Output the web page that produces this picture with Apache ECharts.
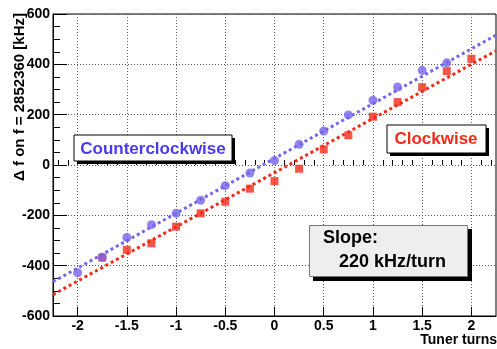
<!DOCTYPE html>
<html>
<head>
<meta charset="utf-8">
<script src="https://cdn.jsdelivr.net/npm/echarts@6/dist/echarts.min.js"></script>
<style>html,body{margin:0;padding:0;background:#fff;}#c{width:497px;height:349px;}</style>
</head>
<body>
<div id="c"></div>
<script>
// ---- data ----
const ccwTurns = [-2, -1.75, -1.5, -1.25, -1, -0.75, -0.5, -0.25, 0, 0.25, 0.5, 0.75, 1, 1.25, 1.5, 1.75];
const ccwDelta = [-428, -367, -288, -237, -192, -140, -82, -32, 18, 82, 135, 199, 257, 310, 376, 406];
const cwTurns = [-1.75, -1.5, -1.25, -1, -0.75, -0.5, -0.25, 0, 0.25, 0.5, 0.75, 1, 1.25, 1.5, 1.75, 2];
const cwDelta = [-368, -337, -311, -245, -192, -146, -94, -64, -15, 62, 118, 192, 250, 309, 373, 422];
const fitTurns = [-2.25, 2.25];
const ccwFit = [-464, 516];
const cwFit = [-515, 454];
const xTicks = [-2, -1.5, -1, -0.5, 0, 0.5, 1, 1.5, 2];
const yTicks = [-600, -400, -200, 0, 200, 400, 600];
const labelCCW = 'Counterclockwise';
const labelCW = 'Clockwise';
const slopeLines = ['Slope:', '220 kHz/turn'];
const xTitle = 'Tuner turns';
const yTitle = '\u0394 f on f = 2852360 [kHz]';

const xMinor = [];
for (let i = -22; i <= 22; i++) { if (i % 5 !== 0) xMinor.push(i / 10); }

const FONT = 'Liberation Sans';
const BLUE = '#7565ee';
const BLUE_TXT = '#4a3af2';
const RED = '#f52a18';
const pair = (xs, ys) => xs.map((x, i) => [x, ys[i]]);

const chart = echarts.init(document.getElementById('c'), null, {renderer: 'canvas'});
const gridPos = {left: 53, right: 1, top: 14, bottom: 33};
chart.setOption({
  backgroundColor: '#fff',
  animation: false,
  grid: [
    Object.assign({show: true, borderColor: '#000', borderWidth: 1, backgroundColor: 'transparent'}, gridPos),
    Object.assign({show: false}, gridPos)
  ],
  xAxis: [{
    type: 'value', gridIndex: 0, min: -2.25, max: 2.25, position: 'bottom',
    axisLine: {show: true, onZero: false, lineStyle: {color: '#000', width: 1}},
    axisTick: {show: true, inside: true, length: 9, customValues: xTicks, lineStyle: {color: '#000'}},
    axisLabel: {show: true, customValues: xTicks, margin: 3, color: '#000', fontFamily: FONT, fontWeight: 'bold', fontSize: 14},
    splitLine: {show: true, lineStyle: {color: '#555', width: 1, type: [1, 2]}}
  }, {
    type: 'value', gridIndex: 1, min: -2.25, max: 2.25, position: 'bottom',
    axisLine: {show: false},
    axisTick: {show: true, inside: true, length: 5, customValues: xMinor, lineStyle: {color: '#000'}},
    axisLabel: {show: false},
    splitLine: {show: false}
  }],
  yAxis: [{
    type: 'value', gridIndex: 0, min: -600, max: 600, interval: 200,
    axisLine: {show: true, onZero: false, lineStyle: {color: '#000', width: 1}},
    axisTick: {show: true, inside: true, length: 14, lineStyle: {color: '#000'}},
    minorTick: {show: true, splitNumber: 4, length: 7, lineStyle: {color: '#000'}},
    axisLabel: {show: true, margin: 3, color: '#000', fontFamily: FONT, fontWeight: 'bold', fontSize: 14},
    splitLine: {show: true, lineStyle: {color: '#555', width: 1, type: [1, 2]}}
  }, {
    type: 'value', gridIndex: 1, min: -600, max: 600, show: false
  }],
  series: [
    {type: 'line', name: 'cw fit', xAxisIndex: 0, yAxisIndex: 0, data: pair(fitTurns, cwFit), symbol: 'none',
     lineStyle: {color: RED, width: 3, type: [3, 3]}, z: 3},
    {type: 'line', name: 'ccw fit', xAxisIndex: 0, yAxisIndex: 0, data: pair(fitTurns, ccwFit), symbol: 'none',
     lineStyle: {color: BLUE, width: 3, type: [3, 3]}, z: 3},
    {type: 'scatter', name: labelCW, xAxisIndex: 0, yAxisIndex: 0, data: pair(cwTurns, cwDelta), symbol: 'rect', symbolSize: 8,
     itemStyle: {color: RED}, z: 4},
    {type: 'scatter', name: labelCCW, xAxisIndex: 0, yAxisIndex: 0, data: pair(ccwTurns, ccwDelta), symbol: 'circle', symbolSize: 9,
     itemStyle: {color: BLUE}, z: 5}
  ],
  graphic: [
    // axis titles
    {type: 'text', z: 100, x: 20, y: 13, rotation: Math.PI / 2,
     style: {text: yTitle, fill: '#000', font: 'bold 15px "' + FONT + '"', align: 'right', verticalAlign: 'middle'}},
    {type: 'text', z: 100, x: 497, y: 340,
     style: {text: xTitle, fill: '#000', font: 'bold 14px "' + FONT + '"', align: 'right', verticalAlign: 'middle'}},
    // Counterclockwise box
    {type: 'rect', z: 100, shape: {x: 77, y: 138, width: 158, height: 26}, style: {fill: '#000'}},
    {type: 'rect', z: 101, shape: {x: 74, y: 135, width: 158, height: 26}, style: {fill: '#fff', stroke: '#000', lineWidth: 1}},
    {type: 'text', z: 102, x: 153, y: 149.5,
     style: {text: labelCCW, fill: BLUE_TXT, font: 'bold 17px "' + FONT + '"', align: 'center', verticalAlign: 'middle'}},
    // Clockwise box
    {type: 'rect', z: 100, shape: {x: 390, y: 128, width: 99, height: 28}, style: {fill: '#000'}},
    {type: 'rect', z: 101, shape: {x: 387, y: 125, width: 99, height: 28}, style: {fill: '#fff', stroke: '#000', lineWidth: 1}},
    {type: 'text', z: 102, x: 436, y: 139,
     style: {text: labelCW, fill: RED, font: 'bold 17px "' + FONT + '"', align: 'center', verticalAlign: 'middle'}},
    // Slope box
    {type: 'rect', z: 100, shape: {x: 313, y: 229, width: 159, height: 52}, style: {fill: '#000'}},
    {type: 'rect', z: 101, shape: {x: 309.5, y: 225.5, width: 158, height: 51}, style: {fill: '#eeeeee', stroke: '#777', lineWidth: 1}},
    {type: 'text', z: 102, x: 323, y: 238,
     style: {text: slopeLines[0], fill: '#000', font: 'bold 18px "' + FONT + '"', align: 'left', verticalAlign: 'middle'}},
    {type: 'text', z: 102, x: 339, y: 262,
     style: {text: slopeLines[1], fill: '#000', font: 'bold 18px "' + FONT + '"', align: 'left', verticalAlign: 'middle'}}
  ]
});
</script>
</body>
</html>
